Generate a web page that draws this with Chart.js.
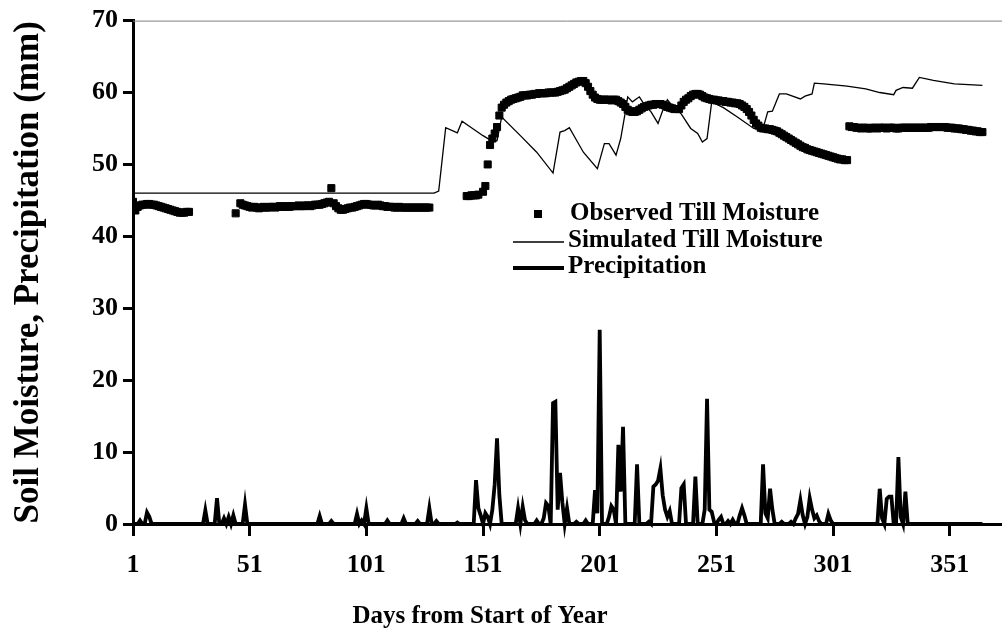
<!DOCTYPE html>
<html>
<head>
<meta charset="utf-8">
<title>Till moisture and precipitation</title>
<script src="https://cdn.jsdelivr.net/npm/chart.js@4.4.1/dist/chart.umd.min.js"></script>
<style>
  html, body { margin: 0; padding: 0; background: #fff; }
  #wrap { width: 1002px; height: 639px; }
</style>
</head>
<body>
<div id="wrap"><canvas id="tillChart" width="1002" height="639"></canvas></div>
<script>
// Ticks of the day axis
const dayTicks = [1, 51, 101, 151, 201, 251, 301, 351];

// Observed till moisture (mm), one value per day, in runs of consecutive days
const obsStartA = 1;
const obsValuesA = [44.8, 43.6, 44.1, 44.3, 44.4, 44.4, 44.5, 44.5, 44.4, 44.4, 44.3, 44.2, 44.1,
  44.0, 43.9, 43.8, 43.7, 43.6, 43.5, 43.4, 43.3, 43.3, 43.3, 43.4, 43.4];
const obsStartB = 45;
const obsValuesB = [43.2];
const obsStartC = 47;
const obsValuesC = [
  44.6, 44.4, 44.3, 44.2, 44.1, 44.0, 44.1, 44.0, 43.9, 44.0,
  44.1, 44.0, 44.0, 44.1, 44.1, 44.0, 44.1, 44.2, 44.1, 44.1,
  44.2, 44.1, 44.2, 44.2, 44.2, 44.3, 44.2, 44.2, 44.3, 44.3,
  44.2, 44.3, 44.4, 44.4, 44.4, 44.5, 44.6, 44.7, 44.8, 46.7,
  44.6, 44.2, 43.9, 43.7, 43.7, 43.8, 43.9, 44.0, 44.0, 44.1,
  44.2, 44.3, 44.4, 44.5, 44.5, 44.4, 44.4, 44.3, 44.3, 44.4,
  44.3, 44.2, 44.2, 44.1, 44.1, 44.1, 44.0, 44.0, 44.1, 44.0,
  44.0, 44.0, 44.0, 44.0, 44.0, 44.0, 44.0, 44.0, 44.0, 44.0,
  44.0, 44.0];
const obsStartD = 144;
const obsValuesD = [45.6, 45.6, 45.7, 45.7, 45.7, 45.8];
const obsStartE = 151;
const obsValuesE = [
  46.2, 47.0, 50.0, 52.7, 53.6, 54.3, 55.2, 56.8, 57.9, 58.3,
  58.6, 58.8, 59.0, 59.1, 59.2, 59.3, 59.4, 59.6, 59.6, 59.6,
  59.7, 59.7, 59.8, 59.8, 59.9, 59.9, 59.9, 59.9, 60.0, 60.0,
  60.0, 60.0, 60.1, 60.2, 60.3, 60.4, 60.6, 60.8, 61.0, 61.2,
  61.4, 61.5, 61.6, 61.6, 61.3, 60.8, 60.2, 59.7, 59.3, 59.1,
  59.0, 59.0, 59.0, 59.0, 59.0, 58.9, 59.0, 59.0, 58.8, 58.6,
  58.4, 58.0, 57.6, 57.4, 57.3, 57.3, 57.4, 57.6, 57.8, 58.0,
  58.1, 58.2, 58.3, 58.3, 58.4, 58.4, 58.4, 58.3, 58.2, 58.0,
  57.9, 57.8, 57.7, 57.7, 57.7, 58.2, 58.7, 59.0, 59.2, 59.5,
  59.7, 59.8, 59.8, 59.7, 59.5, 59.3, 59.2, 59.1, 59.0, 59.0,
  58.9, 58.9, 58.8, 58.8, 58.7, 58.7, 58.6, 58.6, 58.5, 58.5,
  58.4, 58.2, 58.0, 57.7, 57.3, 56.8, 56.2, 55.7, 55.4, 55.1,
  55.0, 55.0, 54.9, 54.9, 54.8, 54.7, 54.6, 54.4, 54.2, 54.0,
  53.8, 53.6, 53.4, 53.2, 53.0, 52.8, 52.6, 52.4, 52.3, 52.1,
  52.0, 51.9, 51.8, 51.7, 51.6, 51.5, 51.4, 51.3, 51.2, 51.1,
  51.0, 50.9, 50.8, 50.7, 50.7, 50.6, 50.6];
const obsStartF = 308;
const obsValuesF = [
  55.3, 55.2, 55.2, 55.1, 55.1, 55.0, 55.1, 55.1, 55.0, 55.0,
  55.1, 55.1, 55.0, 55.1, 55.1, 55.1, 55.0, 55.1, 55.1, 55.1,
  55.0, 55.0, 55.1, 55.1, 55.1, 55.1, 55.1, 55.1, 55.1, 55.1,
  55.1, 55.1, 55.1, 55.1, 55.1, 55.2, 55.2, 55.2, 55.2, 55.2,
  55.2, 55.2, 55.1, 55.1, 55.1, 55.0, 55.0, 55.0, 54.9, 54.9,
  54.8, 54.8, 54.7, 54.7, 54.6, 54.6, 54.5, 54.5];

// Simulated till moisture (mm): days and values at the corners of the line
const simDays = [1, 130, 132, 135, 140, 142, 151, 155, 157, 159, 167, 174, 181, 184, 186, 188,
  194, 200, 203, 205, 208, 210, 212, 213, 215, 218, 220, 223, 226, 228, 230, 232, 236, 240, 243,
  245, 247, 249, 254, 260, 267, 271, 273, 275, 278, 281, 287, 289, 292, 293, 297, 307, 315, 321,
  327, 328, 331, 335, 338, 344, 353, 365];
const simValues = [46.0, 46.0, 46.3, 55.1, 54.4, 56.0, 54.0, 53.2, 53.3, 56.6, 54.0, 51.7, 48.8,
  54.5, 54.7, 55.1, 51.7, 49.4, 52.9, 52.9, 51.3, 53.6, 57.3, 59.4, 58.7, 59.4, 58.4, 57.3, 55.7,
  57.5, 59.0, 58.2, 57.0, 55.0, 54.3, 53.1, 53.6, 58.7, 57.9, 56.6, 55.0, 55.0, 57.3, 57.4, 59.8,
  59.8, 59.1, 59.5, 59.8, 61.3, 61.2, 60.9, 60.5, 60.0, 59.7, 60.3, 60.7, 60.6, 62.1, 61.7, 61.2,
  61.0];

// Daily precipitation (mm): days with rain; every other day of the year is 0
const rainDays = [4, 7, 8, 32, 37, 40, 42, 44, 49, 81, 86, 97, 99, 101, 110, 117, 123, 128, 131, 140,
  148, 149, 150, 152, 153, 155, 156, 157, 158,
  166, 168, 169, 174, 177, 178, 179, 181, 182, 183, 184, 185, 187, 191, 195, 199, 200, 201,
  205, 206, 207, 209, 210, 211, 217, 222, 224, 225, 226, 227, 228, 229, 230, 231,
  236, 237, 242, 246, 247, 248, 249, 250, 252, 253, 256, 258, 261, 262, 263,
  271, 272, 273, 274, 275, 279, 283, 285, 286, 287, 288, 290, 291, 292, 293, 294, 295, 299, 300,
  321, 322, 324, 325, 326, 329, 330, 332];
const rainMm = [0.5, 1.6, 1.0, 1.9, 3.6, 0.8, 1.0, 1.2, 2.7, 1.1, 0.4, 1.4, 0.5, 2.2, 0.5, 0.8, 0.4, 2.2, 0.4, 0.2,
  6.1, 2.2, 1.2, 1.5, 1.0, 2.0, 5.5, 11.9, 4.0,
  2.2, 2.4, 0.5, 0.5, 0.8, 2.9, 2.5, 16.8, 17.0, 2.0, 7.1, 3.0, 2.2, 0.3, 0.5, 4.7, 1.5, 27.0,
  1.0, 2.5, 2.0, 11.0, 4.5, 13.5, 8.3, 0.3, 5.2, 5.5, 6.0, 7.7, 4.0, 2.0, 1.0, 1.8,
  5.0, 5.5, 6.6, 2.0, 17.4, 2.0, 1.7, 0.3, 0.6, 1.0, 0.4, 0.6, 1.2, 2.2, 1.2,
  8.3, 1.5, 0.8, 4.9, 2.0, 0.3, 0.3, 0.8, 1.4, 3.3, 1.2, 1.0, 3.6, 2.0, 0.8, 1.2, 0.4, 1.4, 0.5,
  4.9, 0.8, 3.5, 3.8, 3.8, 9.3, 1.0, 4.5];
const lastDay = 365;

const FONT = '"Liberation Serif", "Times New Roman", serif';

// Construir los puntos observados a partir de los tramos
function runToPoints(start, values) {
  return values.map((v, i) => ({ x: start + i, y: v }));
}
const observedPoints = [].concat(
  runToPoints(obsStartA, obsValuesA),
  runToPoints(obsStartB, obsValuesB),
  runToPoints(obsStartC, obsValuesC),
  runToPoints(obsStartD, obsValuesD),
  runToPoints(obsStartE, obsValuesE),
  runToPoints(obsStartF, obsValuesF)
);
const simulatedPoints = simDays.map((d, i) => ({ x: d, y: simValues[i] }));

const rainPoints = [];
for (let d = 1; d <= lastDay; d++) {
  let k = rainDays.indexOf(d);
  rainPoints.push({ x: d, y: k >= 0 ? rainMm[k] : 0 });
}

// Leyenda dentro del área del gráfico, tipo Excel
const legendPlugin = {
  id: 'innerLegend',
  afterDraw(chart) {
    const ctx = chart.ctx;
    ctx.save();
    ctx.fillStyle = '#000';
    ctx.strokeStyle = '#000';
    ctx.font = 'bold 25px ' + FONT;
    ctx.textBaseline = 'middle';
    ctx.textAlign = 'left';
    // observed
    ctx.fillRect(534, 210, 8, 8);
    ctx.fillText('Observed Till Moisture', 570, 214);
    // simulated
    ctx.lineWidth = 1.3;
    ctx.beginPath(); ctx.moveTo(513, 242); ctx.lineTo(564, 242); ctx.stroke();
    ctx.fillText('Simulated Till Moisture', 568, 241);
    // precipitation
    ctx.lineWidth = 3.8;
    ctx.beginPath(); ctx.moveTo(513, 268); ctx.lineTo(564, 268); ctx.stroke();
    ctx.fillText('Precipitation', 568, 267);
    // x axis title
    ctx.font = 'bold 25px ' + FONT;
    ctx.textAlign = 'center';
    ctx.fillText('Days from Start of Year', 480, 617);
    ctx.restore();
  },
  beforeDatasetsDraw(chart) {
    // borde superior gris del área de trazado
    const { ctx, chartArea } = chart;
    ctx.save();
    ctx.strokeStyle = '#808080';
    ctx.lineWidth = 1;
    ctx.beginPath();
    ctx.moveTo(chartArea.left, chartArea.top + 0.5);
    ctx.lineTo(chartArea.right, chartArea.top + 0.5);
    ctx.stroke();
    ctx.restore();
  }
};

const ctx = document.getElementById('tillChart').getContext('2d');
const chart = new Chart(ctx, {
  type: 'line',
  data: {
    datasets: [
      {
        label: 'Observed Till Moisture',
        data: observedPoints,
        showLine: false,
        pointStyle: 'rect',
        pointRadius: 5,
        pointHoverRadius: 5,
        pointBackgroundColor: '#000',
        pointBorderColor: '#000',
        pointBorderWidth: 1
      },
      {
        label: 'Simulated Till Moisture',
        data: simulatedPoints,
        borderColor: '#000',
        borderWidth: 1.3,
        pointRadius: 0,
        tension: 0
      },
      {
        label: 'Precipitation',
        data: rainPoints,
        borderColor: '#000',
        borderWidth: 3.8,
        pointRadius: 0,
        tension: 0,
        clip: false
      }
    ]
  },
  options: {
    responsive: false,
    animation: false,
    devicePixelRatio: 1,
    layout: { autoPadding: false, padding: { top: 18, right: 0, left: 0, bottom: 0 } },
    plugins: {
      legend: { display: false },
      tooltip: { enabled: false }
    },
    scales: {
      x: {
        type: 'linear',
        min: 1,
        max: 373.4,
        afterBuildTicks: (axis) => { axis.ticks = dayTicks.map(v => ({ value: v })); },
        afterFit: (scale) => { scale.height = 115; },
        ticks: {
          color: '#000',
          font: { family: FONT, size: 26, weight: 'bold' },
          padding: 14,
          maxRotation: 0,
          autoSkip: false
        },
        grid: { drawOnChartArea: false, drawTicks: true, tickLength: 12, tickWidth: 3, tickColor: '#000' },
        border: { display: true, color: '#000', width: 3 }
      },
      y: {
        min: 0,
        max: 70,
        afterFit: (scale) => { scale.width = 133; },
        ticks: {
          stepSize: 10,
          color: '#000',
          font: { family: FONT, size: 26, weight: 'bold' },
          padding: 5
        },
        grid: { drawOnChartArea: false, drawTicks: true, tickLength: 10, tickWidth: 3, tickColor: '#000' },
        border: { display: true, color: '#000', width: 3 },
        title: {
          display: true,
          text: 'Soil Moisture, Precipitation (mm)',
          color: '#000',
          font: { family: FONT, size: 35, weight: 'bold' },
          padding: { top: 8, bottom: 0 }
        }
      }
    }
  },
  plugins: [legendPlugin]
});
</script>
</body>
</html>
